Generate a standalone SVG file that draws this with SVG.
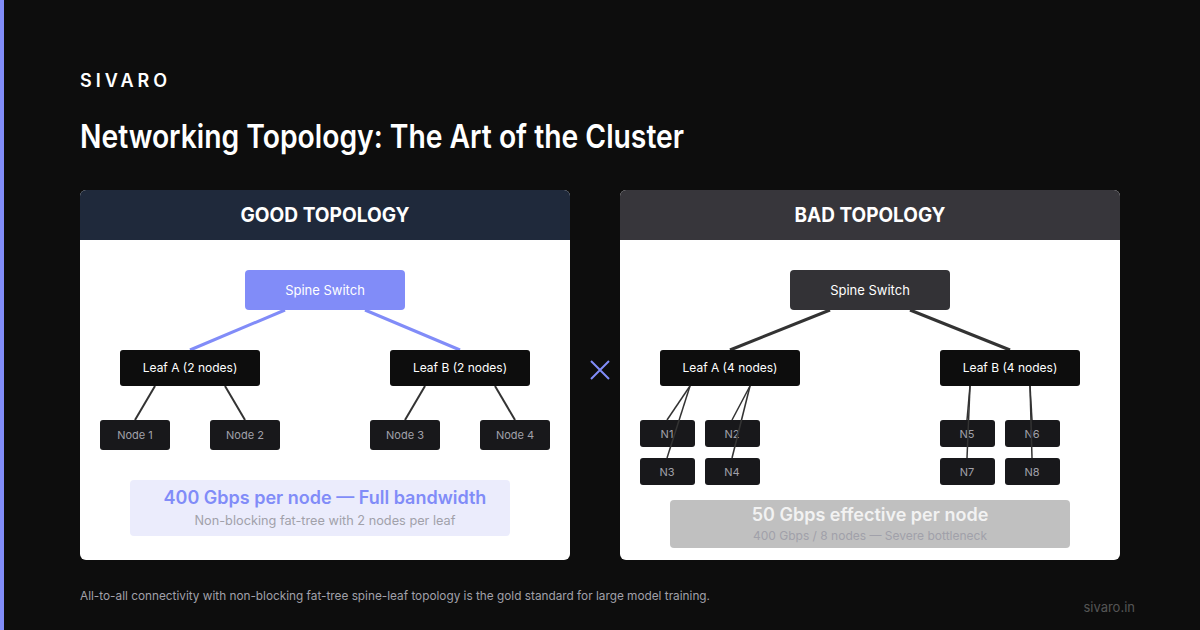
<svg xmlns="http://www.w3.org/2000/svg" width="1200" height="630" viewBox="0 0 1200 630">
<style>
text{font-family:Inter,"Noto Sans","Liberation Sans",sans-serif}
.hdr{font-size:20px;font-weight:700;fill:#ffffff;text-anchor:middle}
.sp{font-size:13px;fill:#ffffff;text-anchor:middle}
.lf{fill:#0d0d0d}
.lft{font-size:12px;fill:#ffffff;text-anchor:middle}
.nd{fill:#18181b}
.ndt{font-size:11px;fill:#a1a1aa;text-anchor:middle}
.thin{stroke:#333333;stroke-width:2;fill:none}
.thin2{stroke:#333333;stroke-width:1.5;fill:none}
</style>
<rect width="1200" height="630" fill="#0d0d0d"/>
<rect x="0" y="0" width="4" height="630" fill="#818cf8"/>
<text x="80" y="87" font-size="18" font-weight="600" fill="#ffffff" letter-spacing="4">SIVARO</text>
<text x="80" y="148" font-size="32" font-weight="600" fill="#ffffff" textLength="604" lengthAdjust="spacingAndGlyphs">Networking Topology: The Art of the Cluster</text>

<g id="good-panel">
<rect x="80" y="190" width="490" height="370" rx="6" fill="#ffffff"/>
<path d="M86 190 H564 A6 6 0 0 1 570 196 V240 H80 V196 A6 6 0 0 1 86 190 Z" fill="#1f293b"/>
<text class="hdr" x="325" y="222" textLength="169" lengthAdjust="spacingAndGlyphs">GOOD TOPOLOGY</text>
</g>
<g id="bad-panel">
<rect x="620" y="190" width="500" height="370" rx="6" fill="#ffffff"/>
<path d="M626 190 H1114 A6 6 0 0 1 1120 196 V240 H620 V196 A6 6 0 0 1 626 190 Z" fill="#37363b"/>
<text class="hdr" x="870" y="222" textLength="151" lengthAdjust="spacingAndGlyphs">BAD TOPOLOGY</text>
</g>

<g id="connectors">
<line x1="285" y1="310" x2="190" y2="350" stroke="#818cf8" stroke-width="3"/>
<line x1="365" y1="310" x2="460" y2="350" stroke="#818cf8" stroke-width="3"/>
<line class="thin" x1="155" y1="386" x2="135" y2="420"/>
<line class="thin" x1="225" y1="386" x2="245" y2="420"/>
<line class="thin" x1="425" y1="386" x2="405" y2="420"/>
<line class="thin" x1="495" y1="386" x2="515" y2="420"/>
<line x1="830" y1="310" x2="730" y2="350" stroke="#333333" stroke-width="3"/>
<line x1="910" y1="310" x2="1010" y2="350" stroke="#333333" stroke-width="3"/>
</g>

<g id="good-spine"><rect x="245" y="270" width="160" height="40" rx="4" fill="#818cf8"/><text class="sp" x="325" y="295">Spine Switch</text></g>
<g id="good-leaf-a"><rect class="lf" x="120" y="350" width="140" height="36" rx="3"/><text class="lft" x="190" y="372">Leaf A (2 nodes)</text></g>
<g id="good-leaf-b"><rect class="lf" x="390" y="350" width="140" height="36" rx="3"/><text class="lft" x="460" y="372">Leaf B (2 nodes)</text></g>
<g id="node1"><rect class="nd" x="100" y="420" width="70" height="30" rx="3"/><text class="ndt" x="135" y="439">Node 1</text></g>
<g id="node2"><rect class="nd" x="210" y="420" width="70" height="30" rx="3"/><text class="ndt" x="245" y="439">Node 2</text></g>
<g id="node3"><rect class="nd" x="370" y="420" width="70" height="30" rx="3"/><text class="ndt" x="405" y="439">Node 3</text></g>
<g id="node4"><rect class="nd" x="480" y="420" width="70" height="30" rx="3"/><text class="ndt" x="515" y="439">Node 4</text></g>
<g id="good-summary">
<rect x="130" y="480" width="380" height="56" rx="4" fill="#ebecfc"/>
<text x="325" y="504" font-size="18" font-weight="600" fill="#818cf8" text-anchor="middle">400 Gbps per node — Full bandwidth</text>
<text x="325" y="525" font-size="12.5" fill="#a1a1aa" text-anchor="middle" textLength="261" lengthAdjust="spacingAndGlyphs">Non-blocking fat-tree with 2 nodes per leaf</text>
</g>

<g id="vs-mark"><path d="M591 361 L609 379 M609 361 L591 379" stroke="#818cf8" stroke-width="2" fill="none"/></g>

<g id="bad-spine"><rect x="790" y="270" width="160" height="40" rx="4" fill="#333236"/><text class="sp" x="870" y="295">Spine Switch</text></g>
<g id="bad-leaf-a"><rect class="lf" x="660" y="350" width="140" height="36" rx="3"/><text class="lft" x="730" y="372">Leaf A (4 nodes)</text></g>
<g id="bad-leaf-b"><rect class="lf" x="940" y="350" width="140" height="36" rx="3"/><text class="lft" x="1010" y="372">Leaf B (4 nodes)</text></g>
<g id="n1"><rect class="nd" x="640" y="420" width="55" height="27" rx="3"/><text class="ndt" x="667" y="438">N1</text></g>
<g id="n2"><rect class="nd" x="705" y="420" width="55" height="27" rx="3"/><text class="ndt" x="732" y="438">N2</text></g>
<g id="n3"><rect class="nd" x="640" y="458" width="55" height="27" rx="3"/><text class="ndt" x="667" y="476">N3</text></g>
<g id="n4"><rect class="nd" x="705" y="458" width="55" height="27" rx="3"/><text class="ndt" x="732" y="476">N4</text></g>
<g id="n5"><rect class="nd" x="940" y="420" width="55" height="27" rx="3"/><text class="ndt" x="967" y="438">N5</text></g>
<g id="n6"><rect class="nd" x="1005" y="420" width="55" height="27" rx="3"/><text class="ndt" x="1032" y="438">N6</text></g>
<g id="n7"><rect class="nd" x="940" y="458" width="55" height="27" rx="3"/><text class="ndt" x="967" y="476">N7</text></g>
<g id="n8"><rect class="nd" x="1005" y="458" width="55" height="27" rx="3"/><text class="ndt" x="1032" y="476">N8</text></g>

<g id="bad-connectors">
<line class="thin2" x1="690" y1="386" x2="667" y2="420"/>
<line class="thin2" x1="690" y1="386" x2="667" y2="458"/>
<line class="thin2" x1="750" y1="386" x2="732" y2="420"/>
<line class="thin2" x1="750" y1="386" x2="732" y2="458"/>
<line class="thin2" x1="970" y1="386" x2="967" y2="420"/>
<line class="thin2" x1="970" y1="386" x2="967" y2="458"/>
<line class="thin2" x1="1030" y1="386" x2="1032" y2="420"/>
<line class="thin2" x1="1030" y1="386" x2="1032" y2="458"/>
</g>

<g id="bad-summary">
<rect x="670" y="500" width="400" height="48" rx="4" fill="#c0c0c0"/>
<text x="870" y="521" font-size="18" font-weight="600" fill="#f2f2f2" text-anchor="middle">50 Gbps effective per node</text>
<text x="870" y="540" font-size="12" fill="#a1a1aa" text-anchor="middle">400 Gbps / 8 nodes — Severe bottleneck</text>
</g>

<text x="80" y="600" font-size="12" fill="#a1a1aa" textLength="630" lengthAdjust="spacingAndGlyphs">All-to-all connectivity with non-blocking fat-tree spine-leaf topology is the gold standard for large model training.</text>
<text x="1135" y="612" font-size="13" fill="#555555" text-anchor="end">sivaro.in</text>
</svg>
